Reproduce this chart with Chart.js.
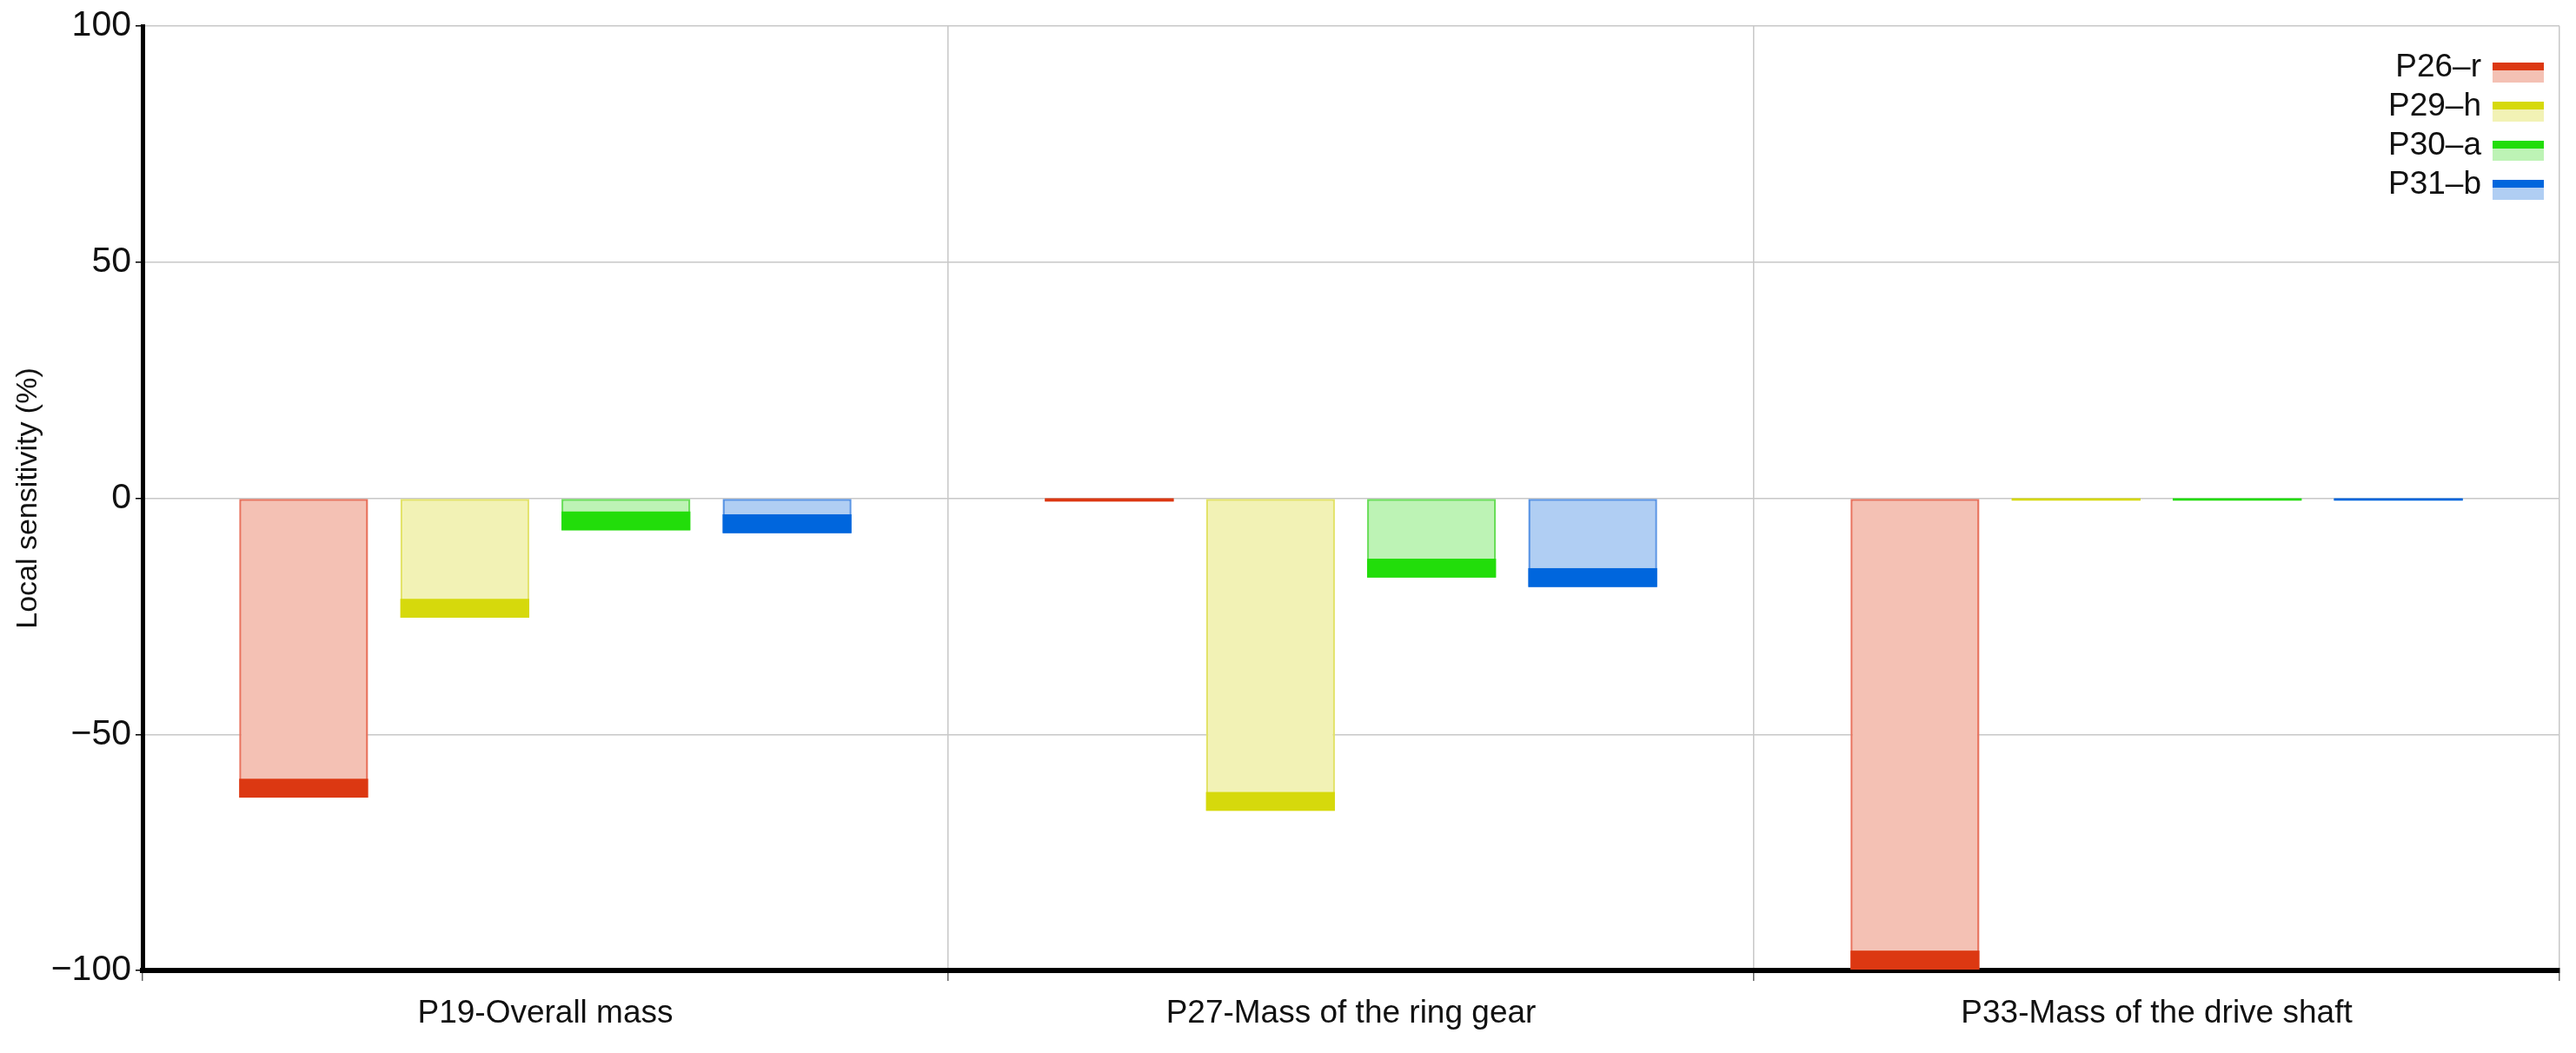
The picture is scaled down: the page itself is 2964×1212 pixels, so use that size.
<!DOCTYPE html>
<html>
<head>
<meta charset="utf-8">
<script src="https://cdn.jsdelivr.net/npm/chart.js@4.4.1/dist/chart.umd.min.js"></script>
<style>
  html, body { margin: 0; padding: 0; background: #fff; }
  #wrap { width: 2964px; height: 1212px; position: relative; }
</style>
</head>
<body>
<div id="wrap"><canvas id="myChart"></canvas></div>
<script>
// Data
const categories = ['P19-Overall mass', 'P27-Mass of the ring gear', 'P33-Mass of the drive shaft'];
const seriesNames = ['P26\u2013r', 'P29\u2013h', 'P30\u2013a', 'P31\u2013b'];
const p26r = [-63.4, -0.7, -99.8];
const p29h = [-25.3, -66.2, -0.5];
const p30a = [-6.8, -16.8, -0.5];
const p31b = [-7.4, -18.8, -0.5];
const yTicks = [-100, -50, 0, 50, 100];

// colours: light fill, outline, dark band
const lightFill = ['#f4c1b4', '#f2f2b5', '#bdf3b5', '#b0cef3'];
const outline = ['#e8735e', '#e3e36a', '#6ade5a', '#5a95e5'];
const darkBand = ['#dc3812', '#d6d90c', '#22dd0a', '#0066dd'];
const bandDepth = 4; // depth of the dark end band, in axis units

const seriesValues = [p26r, p29h, p30a, p31b];
const FONT = 'Liberation Sans, Arial, sans-serif';

// dark band at the end of every bar
const bandPlugin = {
  id: 'bands',
  afterDatasetsDraw(chart) {
    const ctx = chart.ctx;
    const y = chart.scales.y;
    const base = y.getPixelForValue(0);
    chart.data.datasets.forEach((ds, i) => {
      const meta = chart.getDatasetMeta(i);
      meta.data.forEach((bar, j) => {
        const v = ds.data[j];
        const p = bar.getProps(['x', 'y', 'width'], true);
        const top = Math.max(base, y.getPixelForValue(v + bandDepth));
        ctx.save();
        ctx.fillStyle = darkBand[i];
        ctx.fillRect(p.x - p.width / 2, top, p.width, p.y - top);
        ctx.restore();
      });
    });
  }
};

// legend in the top-right corner: text then two-tone swatch
const legendPlugin = {
  id: 'sideLegend',
  afterDraw(chart) {
    const ctx = chart.ctx;
    const area = chart.chartArea;
    const right = area.right - 18;
    ctx.save();
    ctx.font = '37px ' + FONT;
    ctx.textAlign = 'right';
    ctx.textBaseline = 'middle';
    chart.data.datasets.forEach((ds, i) => {
      const cy = area.top + 48 + i * 45;
      ctx.fillStyle = '#111';
      ctx.fillText(ds.label, right - 72, cy);
      ctx.fillStyle = darkBand[i];
      ctx.fillRect(right - 59, cy - 6, 59, 9);
      ctx.fillStyle = lightFill[i];
      ctx.fillRect(right - 59, cy + 3, 59, 14);
    });
    ctx.restore();
  }
};

const ctx = document.getElementById('myChart').getContext('2d');
const myChart = new Chart(ctx, {
  type: 'bar',
  data: {
    labels: categories,
    datasets: seriesNames.map((name, i) => ({
      label: name,
      data: seriesValues[i],
      backgroundColor: lightFill[i],
      borderColor: outline[i],
      borderWidth: 2.5,
      borderSkipped: false,
      barPercentage: 0.8,
      categoryPercentage: 0.8
    }))
  },
  options: {
    responsive: true,
    maintainAspectRatio: false,
    animation: false,
    layout: { padding: { top: 30, right: 19, left: 0, bottom: 0 } },
    plugins: {
      legend: { display: false },
      tooltip: { enabled: false }
    },
    scales: {
      x: {
        grid: { color: '#c8c8c8', lineWidth: 1.5, tickLength: 12, tickColor: '#666' },
        border: { color: '#000', width: 6 },
        ticks: { color: '#111', font: { family: FONT, size: 37 }, padding: 16 },
        afterFit(scale) { scale.height = 95; }
      },
      y: {
        min: -100,
        max: 100,
        afterBuildTicks(scale) { scale.ticks = yTicks.map(v => ({ value: v })); },
        grid: { color: '#c8c8c8', lineWidth: 1.5, tickLength: 8, tickColor: '#000' },
        border: { color: '#000', width: 5 },
        ticks: {
          color: '#111',
          font: { family: FONT, size: 41 },
          padding: 5,
          callback: v => (v < 0 ? '\u2212' + Math.abs(v) : String(v))
        },
        title: {
          display: true,
          text: 'Local sensitivity (%)',
          color: '#111',
          font: { family: FONT, size: 34 },
          padding: { top: 12, bottom: 0 }
        },
        afterFit(scale) { scale.width = 164; }
      }
    }
  },
  plugins: [bandPlugin, legendPlugin]
});
</script>
</body>
</html>
